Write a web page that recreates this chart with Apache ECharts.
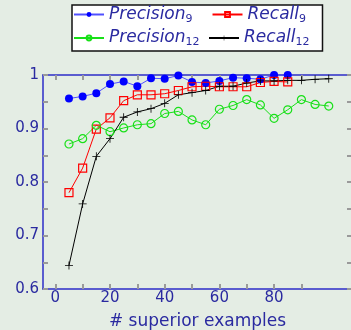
<!DOCTYPE html>
<html>
<head>
<meta charset="utf-8">
<script src="https://cdn.jsdelivr.net/npm/echarts@6/dist/echarts.min.js"></script>
<style>
  html, body { margin: 0; padding: 0; background: #e4ede4; }
  #graph { width: 351px; height: 330px; }
</style>
</head>
<body>
<div id="graph"></div>
<script>
"use strict"

// number of superior examples
const examples = [5, 10, 15, 20, 25, 30, 35, 40, 45, 50, 55, 60, 65, 70, 75, 80, 85, 90, 95, 100];
const precision9 = [0.956, 0.960, 0.966, 0.983, 0.988, 0.979, 0.994, 0.993, 0.999, 0.987, 0.985, 0.989, 0.995, 0.994, 0.992, 1.0, 1.0];
const recall9 = [0.780, 0.826, 0.899, 0.920, 0.952, 0.963, 0.963, 0.965, 0.971, 0.978, 0.979, 0.978, 0.978, 0.978, 0.986, 0.988, 0.987];
const precision12 = [0.871, 0.881, 0.906, 0.894, 0.901, 0.907, 0.909, 0.928, 0.932, 0.916, 0.907, 0.936, 0.943, 0.954, 0.944, 0.919, 0.935, 0.954, 0.945, 0.942];
const recall12 = [0.644, 0.759, 0.848, 0.881, 0.921, 0.931, 0.937, 0.947, 0.963, 0.967, 0.971, 0.979, 0.979, 0.985, 0.989, 0.989, 0.990, 0.990, 0.992, 0.993];
const xTicks = [0, 10, 20, 30, 40, 50, 60, 70, 80, 90];
const xLabels = [0, 20, 40, 60, 80];

const textCol = "#2a2aa0";
const axisCol = "#2c2cc8";
const tickCol = "#9a9a9a";

const pairs = vals => vals.map((v, i) => [examples[i], v]);

const plus = "path://M4.5,0H5.5V4.5H10V5.5H5.5V10H4.5V5.5H0V4.5H4.5Z";

// spaces after a legend entry so the second column lines up
const legendGap = { Precision9: "    ", Precision12: " ", Recall9: "", Recall12: "" };

function mkSeries(name, vals, color, lineColor, symbol, filled, size)
{
    return {
        name: name,
        type: "line",
        data: pairs(vals),
        symbol: symbol,
        symbolSize: size,
        lineStyle: { color: lineColor, width: 1 },
        itemStyle: filled ? { color: color } : { color: "transparent", borderColor: color, borderWidth: 1.2 },
        emphasis: { disabled: true },
        animation: false
    };
}

const tickStyle = { lineStyle: { color: tickCol, width: 2 } };

const option = {
    backgroundColor: "#e4ede4",
    legend: {
        top: 5,
        left: 72,
        width: 275,
        orient: "horizontal",
        backgroundColor: "#ffffff",
        borderColor: "#111111",
        borderWidth: 1.5,
        borderRadius: 0,
        padding: [1, 13, 3, 1],
        itemGap: 5,
        itemWidth: 30,
        itemHeight: 6,
        textStyle: {
            rich: {
                m: { fontFamily: "DejaVu Sans", fontStyle: "italic", fontSize: 17, color: textCol, lineHeight: 20 },
                s: { fontFamily: "DejaVu Sans", fontSize: 11, color: textCol, lineHeight: 10, verticalAlign: "bottom" },
                g: { fontFamily: "DejaVu Sans", fontSize: 11 }
            }
        },
        formatter: name =>
        {
            const txt = name.replace(/^(\D+)(\d+)$/, "{m|$1}{s|$2}");
            const g = legendGap[name];
            return g ? txt + `{g|${g}}` : txt;
        },
        data: ["Precision9", "Recall9", "Precision12", "Recall12"]
    },
    grid: { left: 43, top: 75, width: 309, height: 214, outerBoundsMode: "none", containLabel: false },
    xAxis: [{
        type: "value",
        min: -4.5,
        max: 108.5,
        splitLine: { show: false },
        axisLine: { show: true, onZero: false, lineStyle: { color: axisCol, width: 1.5 } },
        axisTick: { inside: true, length: 5, customValues: xTicks, ...tickStyle },
        axisLabel: { customValues: xLabels, color: textCol, fontFamily: "DejaVu Sans", fontSize: 15, margin: 2 },
        name: "# superior examples",
        nameLocation: "middle",
        nameGap: 24,
        nameTextStyle: { color: textCol, fontFamily: "DejaVu Sans", fontSize: 17 }
    }, {
        type: "value",
        position: "top",
        min: -4.5,
        max: 108.5,
        splitLine: { show: false },
        axisLine: { show: true, onZero: false, lineStyle: { color: axisCol, width: 1.5 } },
        axisTick: { inside: true, length: 5, customValues: xTicks, ...tickStyle },
        axisLabel: { show: false }
    }],
    yAxis: [{
        type: "value",
        min: 0.6,
        max: 1.0,
        interval: 0.05,
        splitLine: { show: false },
        axisLine: { show: true, onZero: false, lineStyle: { color: axisCol, width: 1.5 } },
        axisTick: { inside: true, length: 5, ...tickStyle },
        axisLabel: {
            color: textCol, fontFamily: "DejaVu Sans", fontSize: 15, margin: 4,
            formatter: v => Math.round(v * 100) % 10 === 0 ? String(+v.toFixed(1)) : ""
        }
    }, {
        type: "value",
        position: "right",
        min: 0.6,
        max: 1.0,
        interval: 0.05,
        splitLine: { show: false },
        axisLine: { show: true, onZero: false, lineStyle: { color: axisCol, width: 1.5 } },
        axisTick: { inside: true, length: 5, ...tickStyle },
        axisLabel: { show: false }
    }],
    series: [
        mkSeries("Precision9", precision9, "#0000ff", "#5050ff", "circle", true, 8),
        mkSeries("Recall9", recall9, "#ff0000", "#ff0000", "rect", false, 8),
        mkSeries("Precision12", precision12, "#18e018", "#18e018", "circle", false, 8),
        mkSeries("Recall12", recall12, "#000000", "#000000", plus, true, 8)
    ]
};

const myChart = echarts.init(document.getElementById("graph"), null, { renderer: "canvas" });
myChart.setOption(option);
</script>
</body>
</html>
